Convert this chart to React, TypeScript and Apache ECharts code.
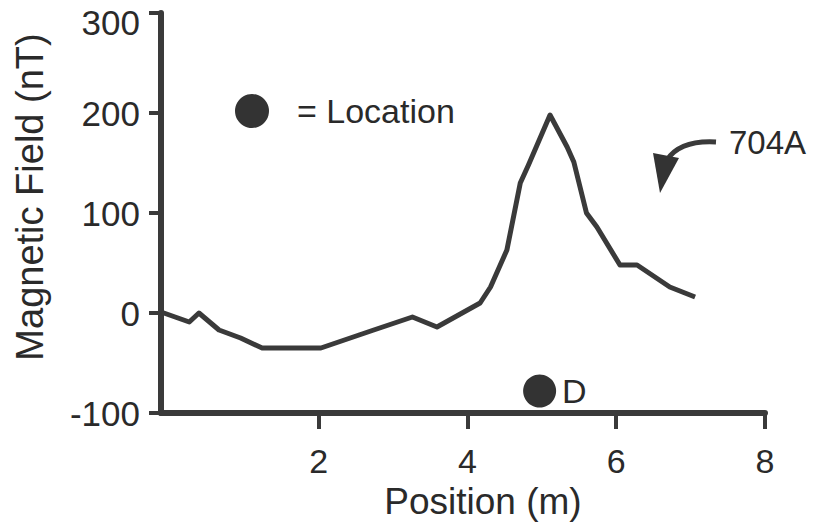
import React, { useEffect, useRef } from "react";
import * as echarts from "echarts";

const positions = [-0.12, 0.26, 0.39, 0.66, 0.95, 1.24, 2.03, 2.74, 3.26, 3.59, 4.17, 4.31, 4.53, 4.71, 4.82, 5.11, 5.34, 5.43, 5.6, 5.74, 6.05, 6.28, 6.72, 7.06];
const fieldValues = [1, -9, 0, -17, -25, -35, -35, -17, -4, -14, 10, 26, 63, 130, 148, 198, 166, 151, 100, 86, 48, 48, 26, 16];
const xTickValues = [2, 4, 6, 8];
const yMax = 300;
const locationPoint = [4.97, -78];
const locationLabel = "D";
const curveLabel = "704A";

const FONT = "Liberation Sans, Arial, sans-serif";
const INK = "#2a2a2a";
const LINE = "#3a3a3a";

export default function App() {
  const ref = useRef<HTMLDivElement>(null);
  useEffect(() => {
    if (!ref.current) return;
    document.body.style.margin = "0";
    const chart = echarts.init(ref.current, null, { renderer: "svg" });
    const option = {
      animation: false,
      backgroundColor: "#ffffff",
      grid: { left: 161, right: 50, top: 13, bottom: 116, outerBoundsMode: "none", containLabel: false },
      legend: {
        data: ["Location"],
        left: 230,
        top: 89,
        itemWidth: 34,
        itemHeight: 34,
        formatter: "= {name}",
        textStyle: { fontFamily: FONT, fontSize: 34, color: INK, padding: [0, 0, 0, 23] },
      },
      xAxis: {
        type: "value",
        min: -0.12,
        max: 8,
        name: "Position (m)",
        nameLocation: "middle",
        nameGap: 57,
        nameTextStyle: { fontFamily: FONT, fontSize: 37, color: INK, padding: [0, 0, 0, 40] },
        axisLine: { show: true, onZero: false, lineStyle: { color: LINE, width: 6 } },
        axisTick: { show: true, length: 16, customValues: xTickValues, lineStyle: { color: LINE, width: 4 } },
        axisLabel: { customValues: xTickValues, margin: 31, fontFamily: FONT, fontSize: 34, color: INK },
        splitLine: { show: false },
      },
      yAxis: {
        type: "value",
        min: -100,
        max: yMax,
        interval: 100,
        name: "Magnetic Field (nT)",
        nameLocation: "middle",
        nameGap: 112,
        nameTextStyle: { fontFamily: FONT, fontSize: 38, color: INK, padding: [0, 0, 0, 32] },
        axisLine: { show: true, onZero: false, lineStyle: { color: LINE, width: 6 } },
        axisTick: { show: true, length: 12, lineStyle: { color: LINE, width: 4 } },
        axisLabel: {
          margin: 21,
          fontFamily: FONT,
          fontSize: 35,
          color: INK,
          formatter: (v: number) => (v === yMax ? `{top|${v}}` : `${v}`),
          rich: {
            top: { fontFamily: FONT, fontSize: 35, color: INK, padding: [18, 0, 0, 0] },
          },
        },
        splitLine: { show: false },
      },
      series: [
        {
          name: "Magnetic field",
          type: "line",
          clip: false,
          showSymbol: false,
          symbol: "none",
          lineStyle: { color: LINE, width: 5, join: "round" },
          data: positions.map((x, i) => [x, fieldValues[i]]),
        },
        {
          name: "Location",
          type: "scatter",
          symbol: "circle",
          symbolSize: 33,
          itemStyle: { color: "#333333", opacity: 1 },
          label: {
            show: true,
            position: "right",
            distance: 6,
            formatter: locationLabel,
            fontFamily: FONT,
            fontSize: 34,
            color: INK,
          },
          data: [locationPoint],
        },
      ],
      graphic: [
        {
          type: "bezierCurve",
          shape: { x1: 716, y1: 142, x2: 667, y2: 160, cpx1: 680, cpy1: 140 },
          style: { stroke: LINE, lineWidth: 5, fill: "none" },
        },
        {
          type: "polygon",
          shape: { points: [[653, 153], [679, 158], [660, 193]] },
          style: { fill: "#333333" },
        },
        {
          type: "text",
          x: 729,
          y: 126,
          style: { text: curveLabel, fontFamily: FONT, fontSize: 33, fill: INK },
        },
      ],
    };
    chart.setOption(option);
    return () => chart.dispose();
  }, []);
  return <div ref={ref} style={{ width: 815, height: 529 }} />;
}
